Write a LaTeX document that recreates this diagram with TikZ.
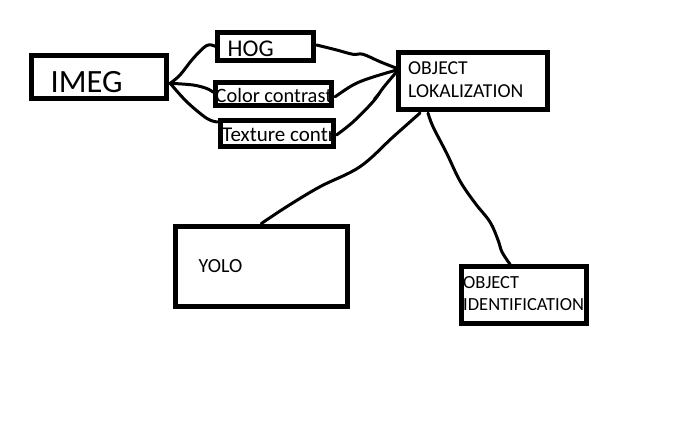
\documentclass[tikz,border=0pt]{standalone}
\usepackage{fontspec}
\setmainfont{Carlito}
\usetikzlibrary{calc}
\begin{document}
\begin{tikzpicture}[x=1pt,y=-1pt,
  box/.style={draw=black, line width=5pt, inner sep=0pt},
  lbl/.style={anchor=base west, inner sep=0pt, text=black},
  wire/.style={line width=3pt, line cap=round, line join=round}]
\useasboundingbox (0,0) rectangle (700,428);
% boxes
\node[box, minimum width=135pt, minimum height=43.5pt] (imeg) at (99.2,76.8) {};
\node[box, minimum width=95.5pt, minimum height=27.5pt] (hog) at (265.3,46.3) {};
\node[box, minimum width=115.7pt, minimum height=22.5pt] (cc) at (273.7,93.8) {};
\node[box, minimum width=113pt, minimum height=26pt] (tc) at (276.5,133) {};
\node[box, minimum width=149pt, minimum height=56.5pt] (ol) at (473,80.8) {};
\node[box, minimum width=172.5pt, minimum height=80.5pt] (yolo) at (261.3,266.3) {};
\node[box, minimum width=124.5pt, minimum height=56.7pt] (oi) at (523.8,295.2) {};
% texts
\node[lbl, font=\fontsize{32.5}{38}\selectfont] (timeg) at (50.5,92.5) {IMEG};
\node[lbl, font=\fontsize{24}{28}\selectfont] (thog) at (227.5,56.3) {HOG};
\begin{scope}
  \clip ($(cc.north west)+(5,5)$) rectangle ($(cc.south east)+(-5,-5)$);
  \node[lbl, font=\fontsize{20.4}{24}\selectfont] (tcc) at (215.5,102.3) {Color contrast};
\end{scope}
\begin{scope}
  \clip ($(tc.north west)+(5,5)$) rectangle ($(tc.south east)+(-5,-5)$);
  \node[lbl, font=\fontsize{21}{25}\selectfont] (ttc) at (222,141.7) {Texture contr};
\end{scope}
\node[lbl, font=\fontsize{19.7}{23}\selectfont] (tol1) at (408,74.3) {OBJECT};
\node[lbl, font=\fontsize{19.7}{23}\selectfont] (tol2) at (408,97.3) {LOKALIZATION};
\node[lbl, font=\fontsize{20}{24}\selectfont] (tyolo) at (198.5,272.3) {YOLO};
\node[lbl, font=\fontsize{18.5}{22}\selectfont] (toi1) at (463,288.3) {OBJECT};
\node[lbl, font=\fontsize{18.5}{22}\selectfont] (toi2) at (463,310) {IDENTIFICATION};
% connector end points
\coordinate (iout) at ($(imeg.east)+(1,6.5)$);
\coordinate (olin1) at ($(ol.west)+(0.7,-12.5)$);
\coordinate (olin2) at ($(ol.west)+(0.7,-10.8)$);
\coordinate (olin3) at ($(ol.west)+(0.7,-9.1)$);
\coordinate (olout1) at ($(ol.south west)+(24,1.5)$);
\coordinate (olout2) at ($(ol.south west)+(32,1.5)$);
% connectors
\draw[wire] plot[smooth, tension=0.6] coordinates {(iout) (180,75) (193.3,58.3) (206.7,45.5) (hog.west)};
\draw[wire] plot[smooth, tension=0.6] coordinates {(iout) (193,85) (206.7,88.5) ($(cc.west)+(0,-1.5)$)};
\draw[wire] plot[smooth, tension=0.6] coordinates {(iout) (186.7,101.7) (206.7,118.3) ($(tc.west)+(0,-11)$)};
\draw[wire] plot[smooth, tension=0.6] coordinates {($(hog.east)+(1,-1.3)$) (336.7,50) (353,54.3) (363,54.3) (380,61.7) (olin1)};
\draw[wire] plot[smooth, tension=0.6] coordinates {($(cc.east)+(1,3)$) (353,85) (370,78) (olin2)};
\draw[wire] plot[smooth, tension=0.6] coordinates {($(tc.east)+(1,2)$) (353.3,121.7) (373,101.7) (383,88) (olin3)};
\draw[wire] (374.5,99) -- (378.5,94.5);
\draw[wire] plot[smooth, tension=0.6] coordinates {(olout1) (393.3,136.7) (360,166.7) (320,186.7) (286.7,206.7) (yolo.north)};
\draw[wire] plot[smooth, tension=0.6] coordinates {(olout2) (433,126.7) (446.7,153.3) (460,181) (475,203) (490,222) (498,240) (502,252) ($(oi.north west)+(51,0)$)};
\end{tikzpicture}
\end{document}
